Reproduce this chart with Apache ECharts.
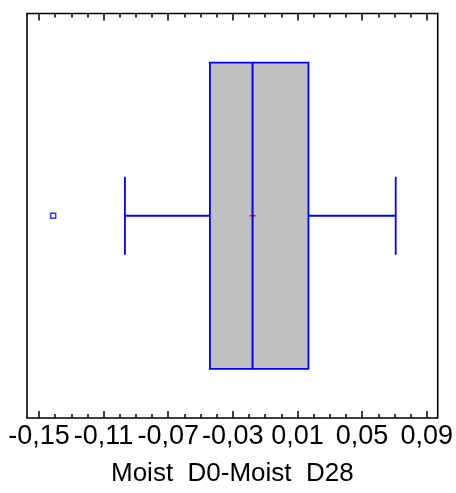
<!DOCTYPE html>
<html>
<head>
<meta charset="utf-8">
<style>
  html, body { margin: 0; padding: 0; background: #fff; }
  #chart { width: 456px; height: 493px; }
</style>
<script src="https://cdn.jsdelivr.net/npm/echarts@6/dist/echarts.min.js"></script>
</head>
<body>
<div id="chart"></div>
<script>
// Box-and-whisker summary of the moisture difference (day 0 minus day 28)
const categories = ['Moist  D0-Moist  D28'];
const lowerWhisker = [-0.0968];
const lowerQuartile = [-0.0442];
const medianValue = [-0.0178];
const upperQuartile = [0.0168];
const upperWhisker = [0.0708];
const meanValue = [-0.0177];
const outlierValues = [-0.1412];

// Axis ticks
const majorTicks = [-0.15, -0.11, -0.07, -0.03, 0.01, 0.05, 0.09];
const majorTickLabels = ['-0,15', '-0,11', '-0,07', '-0,03', '0,01', '0,05', '0,09'];
const minorTicks = [-0.15, -0.14, -0.13, -0.12, -0.11, -0.10, -0.09, -0.08, -0.07, -0.06,
  -0.05, -0.04, -0.03, -0.02, -0.01, 0.00, 0.01, 0.02, 0.03, 0.04, 0.05, 0.06, 0.07, 0.08, 0.09];
const axisMin = -0.1574;
const axisMax = 0.0968;

const BLUE = '#0000ff';
const FONT = 'Liberation Sans, Arial, Helvetica, sans-serif';

function labelFor(v) {
  for (let i = 0; i < majorTicks.length; i++) {
    if (Math.abs(majorTicks[i] - v) < 1e-9) return majorTickLabels[i];
  }
  return '';
}

function tickAxis(position, ticks, length, withLabels) {
  const axis = {
    type: 'value',
    min: axisMin,
    max: axisMax,
    position: position,
    gridIndex: 0,
    axisLine: { show: false },
    splitLine: { show: false },
    axisTick: {
      show: true,
      inside: true,
      length: length,
      customValues: ticks,
      lineStyle: { color: '#000', width: 1.5 }
    },
    axisLabel: { show: false }
  };
  if (withLabels) {
    axis.axisLabel = {
      show: true,
      customValues: majorTicks,
      formatter: labelFor,
      color: '#000',
      fontSize: 27,
      fontFamily: FONT,
      margin: 5
    };
    axis.name = categories[0];
    axis.nameLocation = 'middle';
    axis.nameGap = 43;
    axis.nameTextStyle = { color: '#000', fontSize: 26, fontFamily: FONT };
  }
  return axis;
}

const boxData = categories.map((c, i) => [
  lowerWhisker[i], lowerQuartile[i], medianValue[i], upperQuartile[i], upperWhisker[i], meanValue[i], i
]);
const outlierData = outlierValues.map(v => [v, 0]);

function renderBox(params, api) {
  const cat = api.value(6);
  const pLow = api.coord([api.value(0), cat]);
  const pQ1 = api.coord([api.value(1), cat]);
  const pMed = api.coord([api.value(2), cat]);
  const pQ3 = api.coord([api.value(3), cat]);
  const pHigh = api.coord([api.value(4), cat]);
  const pMean = api.coord([api.value(5), cat]);
  const band = api.size([0, 1])[1];
  const yc = pMed[1];
  const boxH = band * 0.757;
  const capH = band * 0.193;
  const line = { stroke: BLUE, lineWidth: 1.8 };
  return {
    type: 'group',
    children: [
      { type: 'line', shape: { x1: pLow[0], y1: yc, x2: pQ1[0], y2: yc }, style: line },
      { type: 'line', shape: { x1: pQ3[0], y1: yc, x2: pHigh[0], y2: yc }, style: line },
      { type: 'line', shape: { x1: pLow[0], y1: yc - capH / 2, x2: pLow[0], y2: yc + capH / 2 }, style: line },
      { type: 'line', shape: { x1: pHigh[0], y1: yc - capH / 2, x2: pHigh[0], y2: yc + capH / 2 }, style: line },
      {
        type: 'rect',
        shape: { x: pQ1[0], y: yc - boxH / 2, width: pQ3[0] - pQ1[0], height: boxH },
        style: { fill: '#c0c0c0', stroke: BLUE, lineWidth: 1.8 }
      },
      { type: 'line', shape: { x1: pMean[0] - 3, y1: yc, x2: pMean[0] + 3, y2: yc }, style: { stroke: '#ff0000', lineWidth: 1.5 } },
      { type: 'line', shape: { x1: pMean[0], y1: yc - 2, x2: pMean[0], y2: yc + 2 }, style: { stroke: '#ff0000', lineWidth: 1.5 } },
      { type: 'line', shape: { x1: pMed[0], y1: yc - boxH / 2, x2: pMed[0], y2: yc + boxH / 2 }, style: { stroke: BLUE, lineWidth: 2 } }
    ]
  };
}

const chart = echarts.init(document.getElementById('chart'), null, { renderer: 'canvas' });
chart.setOption({
  animation: false,
  backgroundColor: '#fff',
  grid: {
    left: 27, right: 18, top: 13.5, bottom: 75,
    show: true,
    borderColor: '#000',
    borderWidth: 1.6,
    backgroundColor: 'transparent'
  },
  xAxis: [
    tickAxis('bottom', majorTicks, 7, true),
    tickAxis('bottom', minorTicks, 4, false),
    tickAxis('top', majorTicks, 7, false),
    tickAxis('top', minorTicks, 4, false)
  ],
  yAxis: {
    type: 'category',
    data: categories,
    show: false,
    boundaryGap: true
  },
  series: [
    {
      type: 'custom',
      xAxisIndex: 0,
      yAxisIndex: 0,
      renderItem: renderBox,
      encode: { x: [0, 1, 2, 3, 4, 5], y: 6 },
      data: boxData,
      z: 2
    },
    {
      type: 'scatter',
      xAxisIndex: 0,
      yAxisIndex: 0,
      symbol: 'rect',
      symbolSize: 5,
      itemStyle: { color: '#fff', borderColor: BLUE, borderWidth: 1.5 },
      data: outlierData,
      z: 3
    }
  ]
});
</script>
</body>
</html>
